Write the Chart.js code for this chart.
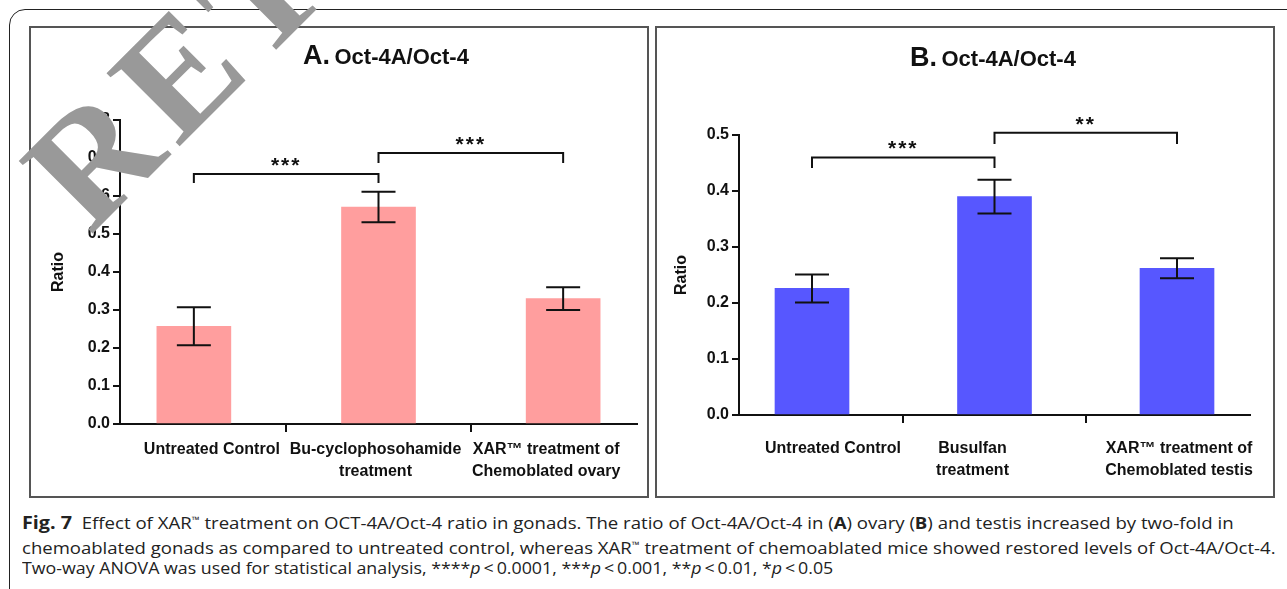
<!DOCTYPE html>
<html lang="en">
<head>
<meta charset="UTF-8">
<title>Fig. 7 - Oct-4A/Oct-4 ratio</title>
<script src="https://cdn.jsdelivr.net/npm/chart.js"></script>
<style>
    body { margin: 0; width: 1287px; height: 589px; overflow: hidden; background: #fff; position: relative;
           font-family: "Liberation Sans", Arial, sans-serif; color: #111; }
    .frame { position: absolute; left: 9px; top: 9px; width: 1400px; height: 700px; border: 1.5px solid #222; border-radius: 16px; }
    .panel { position: absolute; top: 26px; width: 620px; height: 472px; border: 2px solid #555; box-sizing: border-box; background: #fff; }
    #panelA { left: 29px; }
    #panelB { left: 655px; }
    .ptitle { position: absolute; font-weight: bold; white-space: nowrap; line-height: 30px; }
    .ptitle .big { font-size: 27px; }
    .ptitle .small { font-size: 22px; }
    .caption { position: absolute; left: 22px; font-family: "Open Sans", sans-serif; font-size: 16px; line-height: 20px;
               white-space: nowrap; transform-origin: left center; color: #222; }
    .caption sup { font-size: 9px; vertical-align: 6px; }
    .caption b.fig { font-size: 17px; }
    svg.mark { position: absolute; left: 0; top: 0; pointer-events: none; }
</style>
</head>
<body>

<div class="frame"></div>
<div class="panel" id="panelA"><canvas id="chartA" width="616" height="468"></canvas></div>
<div class="panel" id="panelB"><canvas id="chartB" width="616" height="468"></canvas></div>

<div class="ptitle" style="left:303px; top:40px;"><span class="big">A.</span> <span class="small">Oct-4A/Oct-4</span></div>
<div class="ptitle" style="left:910px; top:42px;"><span class="big">B.</span> <span class="small">Oct-4A/Oct-4</span></div>

<div class="caption" id="cap1" style="top:510px;"><b class="fig">Fig. 7</b>&nbsp;&nbsp;Effect of XAR<sup>™</sup> treatment on OCT-4A/Oct-4 ratio in gonads. The ratio of Oct-4A/Oct-4 in (<b>A</b>) ovary (<b>B</b>) and testis increased by two-fold in</div>
<div class="caption" id="cap2" style="top:535px;">chemoablated gonads as compared to untreated control, whereas XAR<sup>™</sup> treatment of chemoablated mice showed restored levels of Oct-4A/Oct-4.</div>
<div class="caption" id="cap3" style="top:558px;">Two-way ANOVA was used for statistical analysis, ****<i>p</i>&thinsp;&lt;&thinsp;0.0001, ***<i>p</i>&thinsp;&lt;&thinsp;0.001, **<i>p</i>&thinsp;&lt;&thinsp;0.01, *<i>p</i>&thinsp;&lt;&thinsp;0.05</div>

<!-- watermark -->
<svg class="mark" width="1287" height="589">
    <text x="90" y="236" transform="rotate(-45 90 236)" font-family="Liberation Serif" font-weight="bold" font-size="158" letter-spacing="10" fill="#999">RETRACTED</text>
</svg>

<script>
// panel A - ovary
const labelsA = [["Untreated Control"], ["Bu-cyclophosohamide", "treatment"], ["XAR™ treatment of", "Chemoblated ovary"]];
const meansA = [0.257, 0.571, 0.330];
const errsA = [0.050, 0.040, 0.030];
const sigPairsA = [[0, 1], [1, 2]];
const sigTopA = [0.658, 0.713];
const sigLegA = [0.634, 0.687];
const sigTextA = ["***", "***"];

// panel B - testis
const labelsB = [["Untreated Control"], ["Busulfan", "treatment"], ["XAR™ treatment of", "Chemoblated testis"]];
const meansB = [0.226, 0.390, 0.262];
const errsB = [0.025, 0.030, 0.018];
const sigPairsB = [[0, 1], [1, 2]];
const sigTopB = [0.460, 0.504];
const sigLegB = [0.441, 0.484];
const sigTextB = ["***", "**"];

const INK = "#111";

// error bars + significance brackets; labelShift nudges the category labels like in the figure
function annotPlugin(means, errs, pairs, tops, legs, texts, labelShift) {
    return {
        id: "annot",
        beforeDraw(chart) {
            const items = chart.scales.x.getLabelItems(chart.chartArea);
            items.forEach((it, i) => { it.options.translation[0] += labelShift[i] || 0; });
        },
        afterDatasetsDraw(chart) {
            const { ctx, scales: { x, y } } = chart;
            ctx.save();
            ctx.strokeStyle = INK;
            ctx.lineWidth = 2;
            means.forEach((m, i) => {
                const px = x.getPixelForValue(i);
                const hi = y.getPixelForValue(m + errs[i]);
                const lo = y.getPixelForValue(m - errs[i]);
                ctx.beginPath();
                ctx.moveTo(px, hi); ctx.lineTo(px, lo);
                ctx.moveTo(px - 17, hi); ctx.lineTo(px + 17, hi);
                ctx.moveTo(px - 17, lo); ctx.lineTo(px + 17, lo);
                ctx.stroke();
            });
            ctx.fillStyle = INK;
            ctx.font = "bold 21px 'Liberation Sans', Arial";
            ctx.textAlign = "center";
            ctx.textBaseline = "alphabetic";
            ctx.letterSpacing = "2px";
            pairs.forEach((p, k) => {
                const x1 = x.getPixelForValue(p[0]);
                const x2 = x.getPixelForValue(p[1]);
                const yt = y.getPixelForValue(tops[k]);
                const yl = y.getPixelForValue(legs[k]);
                ctx.beginPath();
                ctx.moveTo(x1, yl); ctx.lineTo(x1, yt); ctx.lineTo(x2, yt); ctx.lineTo(x2, yl);
                ctx.stroke();
                ctx.fillText(texts[k], (x1 + x2) / 2, yt - 2);
            });
            ctx.restore();
        }
    };
}

function makeChart(id, labels, means, errs, color, yMax, cfg, annot) {
    const ctx = document.getElementById(id).getContext("2d");
    return new Chart(ctx, {
        type: "bar",
        data: {
            datasets: [{
                data: means.map((v, i) => ({ x: i, y: v })),
                backgroundColor: color,
                borderWidth: 0,
                barThickness: 74
            }]
        },
        options: {
            responsive: false,
            animation: false,
            layout: { padding: { left: 0, right: cfg.padRight, top: cfg.padTop, bottom: 0 } },
            plugins: { legend: { display: false }, tooltip: { enabled: false } },
            scales: {
                x: {
                    type: "linear",
                    offset: false,
                    min: -0.4, max: 2.4,
                    afterBuildTicks: s => { s.ticks = labels.map((l, i) => ({ value: i })); },
                    afterFit: s => { s.height = cfg.xHeight; },
                    ticks: {
                        autoSkip: false, maxRotation: 0,
                        padding: cfg.xPad,
                        color: INK,
                        font: { family: "'Liberation Sans', Arial", size: 16, weight: "bold", lineHeight: 1.4 },
                        callback: v => labels[v]
                    },
                    grid: { drawOnChartArea: false, tickLength: 8, color: INK, lineWidth: 2 },
                    border: { color: INK, width: 2 }
                },
                y: {
                    min: 0, max: yMax,
                    afterFit: s => { s.width = cfg.yWidth; },
                    ticks: {
                        stepSize: 0.1,
                        padding: 3,
                        color: INK,
                        font: { family: "'Liberation Sans', Arial", size: 16, weight: "bold" },
                        callback: v => v.toFixed(1)
                    },
                    grid: { drawOnChartArea: false, tickLength: 7, color: INK, lineWidth: 2 },
                    border: { color: INK, width: 2 },
                    title: {
                        display: true, text: "Ratio", color: INK,
                        padding: { top: cfg.titlePad, bottom: 0 },
                        font: { family: "'Liberation Sans', Arial", size: 16, weight: "bold" }
                    }
                }
            }
        },
        plugins: [annot]
    });
}

makeChart("chartA", labelsA, meansA, errsA, "#FF9E9E", 0.8,
    { padRight: 10, padTop: 92, yWidth: 89, xHeight: 72, xPad: 6, titlePad: 18 },
    annotPlugin(meansA, errsA, sigPairsA, sigTopA, sigLegA, sigTextA, [18, -3, -17]));

makeChart("chartB", labelsB, meansB, errsB, "#5757FF", 0.5,
    { padRight: 23, padTop: 107, yWidth: 82, xHeight: 81, xPad: 14, titlePad: 15 },
    annotPlugin(meansB, errsB, sigPairsB, sigTopB, sigLegB, sigTextB, [21, -22, 2]));

// squeeze caption lines to the widths of the printed figure
[["cap1", 1212], ["cap2", 1253], ["cap3", 811]].forEach(([id, w]) => {
    const el = document.getElementById(id);
    el.style.transform = "scaleX(" + (w / el.scrollWidth) + ")";
});
</script>
</body>
</html>
